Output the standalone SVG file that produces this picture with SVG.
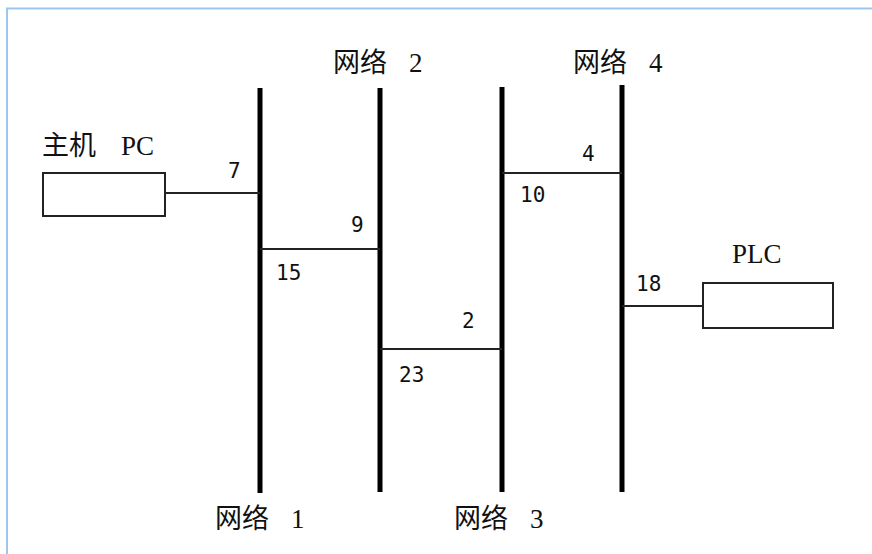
<svg xmlns="http://www.w3.org/2000/svg" width="872" height="554" viewBox="0 0 872 554">
<style>
.bus{stroke:#000;stroke-width:5;fill:none}
.link{stroke:#222;stroke-width:2;fill:none}
.box{fill:#fff;stroke:#222;stroke-width:2}
.lbl{font-family:"Liberation Serif","Noto Sans CJK SC",serif;font-size:27px;fill:#111}
.num{font-family:"DejaVu Sans Mono","Liberation Mono",monospace;font-size:21px;fill:#111}
</style>
<rect x="0" y="0" width="872" height="554" fill="#fff"/>
<path d="M7,554 V8.5 H872" fill="none" stroke="#9cc8f0" stroke-width="2"/>
<g id="net1"><line class="bus" x1="260" y1="88" x2="260" y2="493"/><text class="lbl" x="215" y="528">网络 <tspan x="291">1</tspan></text></g>
<g id="net2"><line class="bus" x1="380" y1="88" x2="380" y2="492"/><text class="lbl" x="333" y="72">网络 <tspan x="409">2</tspan></text></g>
<g id="net3"><line class="bus" x1="502" y1="87" x2="502" y2="492"/><text class="lbl" x="454" y="528">网络 <tspan x="530">3</tspan></text></g>
<g id="net4"><line class="bus" x1="622" y1="85" x2="622" y2="492"/><text class="lbl" x="573" y="72">网络 <tspan x="649">4</tspan></text></g>
<g id="pc"><rect class="box" x="43" y="173" width="122" height="43"/><text class="lbl" x="42" y="155">主机 <tspan x="121">PC</tspan></text></g>
<g id="plc"><rect class="box" x="703" y="283" width="130" height="45"/><text class="lbl" x="732" y="263">PLC</text></g>
<g id="connectors">
<line class="link" x1="165" y1="193" x2="260" y2="193"/>
<line class="link" x1="260" y1="249" x2="380" y2="249"/>
<line class="link" x1="380" y1="349" x2="502" y2="349"/>
<line class="link" x1="502" y1="173" x2="622" y2="173"/>
<line class="link" x1="622" y1="306" x2="703" y2="306"/>
<text class="num" x="228" y="178">7</text>
<text class="num" x="276" y="280">15</text>
<text class="num" x="351" y="232">9</text>
<text class="num" x="462" y="328">2</text>
<text class="num" x="399" y="382">23</text>
<text class="num" x="582" y="161">4</text>
<text class="num" x="520" y="202">10</text>
<text class="num" x="636" y="291">18</text>
</g>
</svg>
